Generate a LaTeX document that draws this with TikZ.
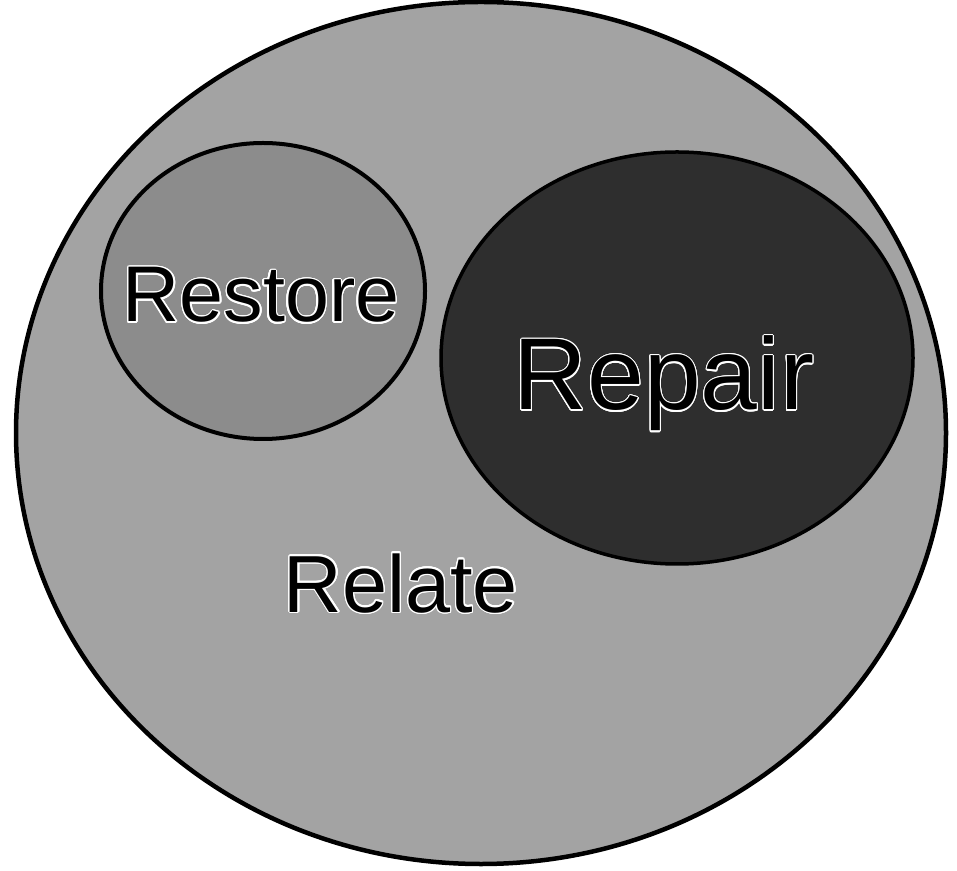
\documentclass[tikz,border=0pt]{standalone}
\usepackage{fontspec}
\setmainfont{Liberation Sans}
\usepackage{contour}
\contourlength{1.4pt}
\contournumber{24}
\definecolor{relategray}{gray}{0.64}
\definecolor{restoregray}{gray}{0.55}
\definecolor{repairgray}{gray}{0.18}
\begin{document}
\begin{tikzpicture}[x=1pt,y=1pt,
  ring/.style={draw=black, line width=4.5pt},
  lbl/.style={inner sep=0pt, anchor=base, text=black}]
\useasboundingbox (0,0) rectangle (957,870);
\fill[white] (0,0) rectangle (957,870);
% outer: Relate
\draw[ring, fill=relategray] (481,437) ellipse [x radius=465, y radius=431];
% Restore
\draw[ring, line width=4pt, fill=restoregray] (263,579) ellipse [x radius=162, y radius=148];
% Repair
\draw[ring, line width=3.5pt, fill=repairgray] (677,512) ellipse [x radius=236, y radius=206];
% labels
\node[lbl, font=\fontsize{79}{79}\selectfont] (restore) at (261,548) {\contour{white}{Restore}};
\node[lbl, font=\fontsize{102}{102}\selectfont] (repair) at (664,460) {\contourlength{1.1pt}\contour{white}{Repair}};
\node[lbl, font=\fontsize{81}{81}\selectfont] (relate) at (401,258) {\contour{white}{Relate}};
\end{tikzpicture}
\end{document}
